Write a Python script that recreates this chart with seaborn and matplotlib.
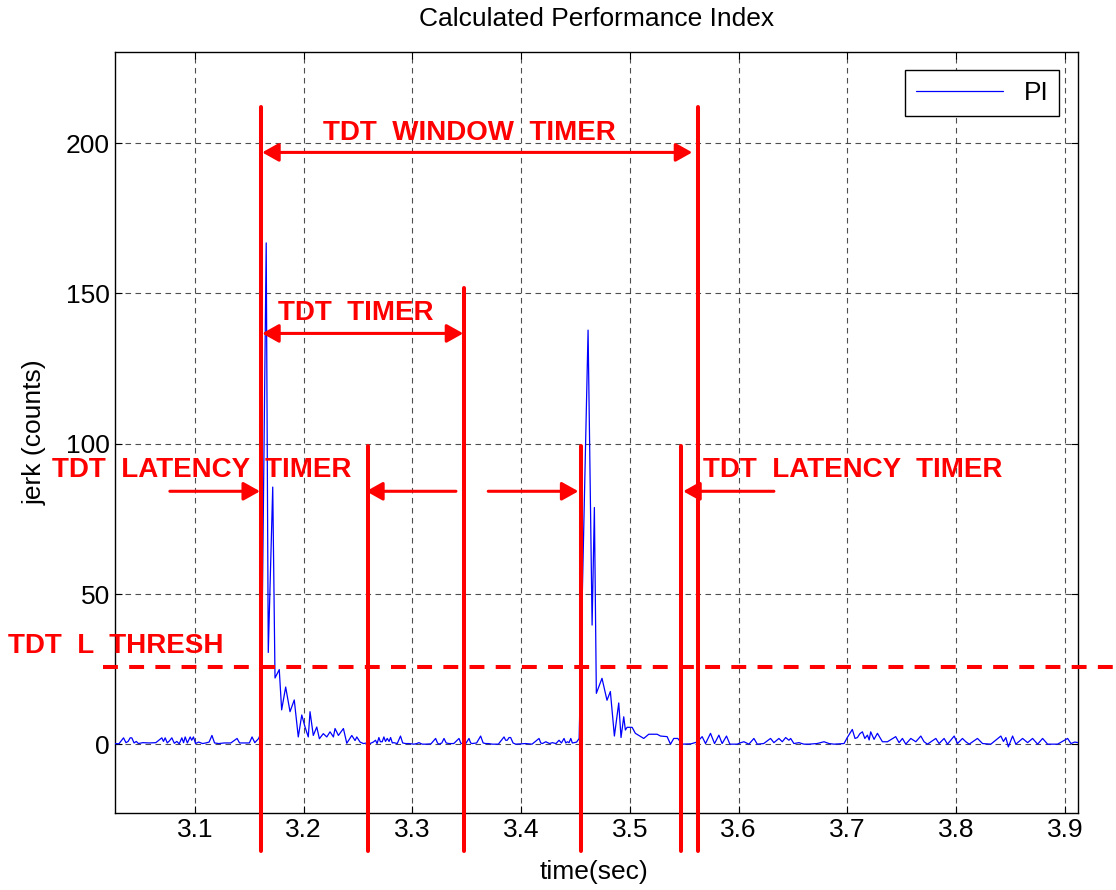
import numpy as np
import pandas as pd
import matplotlib
matplotlib.use("Agg")
import matplotlib.pyplot as plt
import seaborn as sns

# --- PI signal (time sec, jerk counts) ---
quiet_1 = [(3.0265, 0.3), (3.0300, 0.2), (3.0343, 2.2), (3.0365, 0.6), (3.0385, 1.0),
           (3.0404, 2.2), (3.0419, 2.2), (3.0440, 0.5), (3.0460, 1.0), (3.0480, 0.3),
           (3.0520, 0.6), (3.0580, 0.5), (3.0640, 0.6), (3.0695, 2.2), (3.0710, 1.0),
           (3.0726, 2.2), (3.0745, 0.5), (3.0765, 1.2), (3.0787, 2.2), (3.0810, 0.4),
           (3.0833, 1.0), (3.0855, 0.2), (3.0879, 2.2), (3.0895, 0.6), (3.0910, 2.5),
           (3.0930, 0.5), (3.0956, 2.5), (3.0970, 1.4), (3.0986, 2.5), (3.1005, 0.3),
           (3.1034, 0.8), (3.1070, 0.3), (3.1100, 0.5), (3.1130, 0.8), (3.1156, 3.0),
           (3.1180, 0.5), (3.1218, 0.3), (3.1270, 0.5), (3.1330, 0.5), (3.1387, 2.0),
           (3.1410, 0.5), (3.1460, 0.5), (3.1500, 0.5), (3.1525, 2.5), (3.1550, 0.6),
           (3.1586, 2.0), (3.1607, 4.0)]

burst_1 = [(3.1655, 166.8), (3.1674, 30.6), (3.1715, 85.6), (3.1736, 22.1), (3.1775, 24.9),
           (3.1797, 11.5), (3.1834, 19.1), (3.1874, 10.9), (3.1913, 14.8), (3.1950, 2.5),
           (3.1982, 9.8), (3.2012, 5.8), (3.2042, 2.5), (3.2058, 10.9), (3.2088, 3.0),
           (3.2120, 5.8), (3.2144, 1.9), (3.2180, 3.6), (3.2212, 2.5), (3.2242, 4.2),
           (3.2273, 2.5), (3.2288, 5.3), (3.2319, 3.0), (3.2365, 5.3), (3.2396, 0.4),
           (3.2442, 3.0), (3.2472, 1.3), (3.2488, 2.5), (3.2518, 0.8), (3.2549, 0.3),
           (3.2580, 0.5)]

quiet_2 = [(3.2610, 0.3), (3.2640, 0.8), (3.2660, 1.4), (3.2675, 0.3), (3.2691, 2.3),
           (3.2705, 0.9), (3.2722, 0.9), (3.2737, 2.5), (3.2752, 1.0), (3.2768, 2.0),
           (3.2785, 1.0), (3.2799, 2.3), (3.2815, 0.5), (3.2829, 0.6), (3.2860, 0.3),
           (3.2890, 2.8), (3.2910, 0.5), (3.2936, 0.3), (3.2970, 0.3), (3.3013, 0.1),
           (3.3040, 0.3), (3.3059, 0.6), (3.3090, 0.1), (3.3121, 0.1), (3.3170, 0.2),
           (3.3213, 2.0), (3.3230, 0.5), (3.3244, 0.1), (3.3270, 0.5), (3.3290, 2.0),
           (3.3310, 0.5), (3.3336, 0.3), (3.3380, 0.3), (3.3428, 2.0), (3.3445, 0.4),
           (3.3458, 0.3), (3.3490, 0.3), (3.3520, 2.0), (3.3535, 0.5), (3.3550, 0.3),
           (3.3590, 0.5), (3.3627, 2.8), (3.3650, 0.5), (3.3673, 0.3), (3.3700, 0.3),
           (3.3734, 0.1), (3.3790, 0.1), (3.3842, 2.5), (3.3857, 1.4), (3.3872, 1.4),
           (3.3888, 2.3), (3.3903, 2.3), (3.3925, 0.5), (3.3949, 0.1), (3.4000, 0.2),
           (3.4041, 0.3), (3.4100, 0.1), (3.4164, 2.0), (3.4180, 0.5), (3.4195, 0.3),
           (3.4226, 0.9), (3.4260, 0.3), (3.4287, 0.6), (3.4320, 0.3), (3.4348, 1.4),
           (3.4370, 0.5), (3.4394, 2.0), (3.4410, 0.5), (3.4425, 0.9), (3.4440, 0.6),
           (3.4456, 2.0), (3.4470, 0.5), (3.4487, 0.6), (3.4510, 0.8), (3.4533, 2.0)]

burst_2 = [(3.4615, 137.8), (3.4652, 39.7), (3.4673, 78.8), (3.4691, 17.0), (3.4743, 22.0),
           (3.4789, 14.7), (3.4820, 17.6), (3.4857, 2.8), (3.4897, 13.8), (3.4918, 2.3),
           (3.4943, 9.2), (3.4958, 4.8), (3.4974, 5.7), (3.5020, 5.7), (3.5050, 3.7),
           (3.5127, 2.0), (3.5173, 3.4), (3.5250, 3.4), (3.5281, 2.8), (3.5342, 2.6),
           (3.5373, 0.1), (3.5403, 2.0), (3.5440, 2.0), (3.5480, 0.1), (3.5560, 0.2),
           (3.5618, 0.8)]

quiet_3 = [(3.5664, 2.6), (3.5695, 0.3), (3.5741, 3.7), (3.5778, 0.3), (3.5818, 3.1),
           (3.5848, 0.3), (3.5888, 2.8), (3.5919, 0.1), (3.5987, 0.1), (3.6020, 0.6),
           (3.6048, 0.9), (3.6094, 0.1), (3.6140, 2.0), (3.6171, 0.1), (3.6230, 0.3),
           (3.6293, 2.0), (3.6324, 0.6), (3.6370, 2.0), (3.6401, 0.9), (3.6432, 2.3),
           (3.6462, 1.4), (3.6478, 2.0), (3.6508, 0.3), (3.6554, 0.6), (3.6600, 0.1),
           (3.6647, 0.1), (3.6720, 0.3), (3.6785, 0.9), (3.6831, 0.3), (3.6877, 0.1),
           (3.6969, 0.3), (3.6999, 2.3), (3.7045, 5.0), (3.7070, 2.0), (3.7092, 2.3),
           (3.7115, 3.6), (3.7138, 4.2), (3.7160, 2.0), (3.7184, 3.1), (3.7200, 1.5),
           (3.7214, 4.2), (3.7245, 1.7), (3.7276, 3.7), (3.7322, 0.9), (3.7368, 0.9),
           (3.7444, 2.6), (3.7475, 0.6), (3.7506, 2.0), (3.7537, 0.1), (3.7583, 2.0),
           (3.7629, 0.9), (3.7675, 2.8), (3.7705, 0.9), (3.7736, 0.1), (3.7813, 2.0),
           (3.7843, 0.3), (3.7889, 2.0), (3.7920, 0.1), (3.7982, 2.8), (3.8012, 0.3),
           (3.8058, 2.0), (3.8089, 0.9), (3.8120, 0.1), (3.8196, 2.0), (3.8243, 0.3),
           (3.8319, 0.1), (3.8411, 2.8), (3.8435, 1.0), (3.8457, 2.3), (3.8480, -0.8),
           (3.8519, 2.8), (3.8549, 0.1), (3.8611, 2.0), (3.8657, 0.6), (3.8703, 2.0),
           (3.8749, 0.1), (3.8795, 2.0), (3.8841, 0.1), (3.8933, 0.1), (3.9025, 2.0),
           (3.9056, 0.3), (3.9090, 0.8), (3.9125, 0.6)]

# --- annotation geometry (data coordinates) ---
marker_x = [3.1607, 3.2592, 3.3470, 3.4550, 3.5465, 3.5622]
marker_top = [211.9, 99.3, 151.7, 99.3, 99.3, 211.9]
marker_bottom = -35.5
thresh_level = 25.7
thresh_span = [3.0154, 3.96]
window_arrow = [(3.1618, 196.9), (3.5573, 196.9)]
timer_arrow = [(3.1618, 136.7), (3.3467, 136.7)]
latency_y = 84.2
latency_arrows = [(3.0769, 3.1598), (3.3400, 3.2574), (3.3697, 3.4526), (3.6324, 3.5490)]
labels = {
    "TDT  WINDOW  TIMER": (3.3522, 203.4, "center"),
    "TDT  TIMER": (3.2482, 143.4, "center"),
    "TDT  LATENCY  TIMER": (3.2442, 91.2, "right"),
    "TDT  LATENCY  TIMER ": (3.5674, 91.2, "left"),
    "TDT  L  THRESH": (2.9278, 32.8, "left"),
}

pi_df = pd.DataFrame(quiet_1 + burst_1 + quiet_2 + burst_2 + quiet_3, columns=["t", "pi"])

sns.set_style("white")
plt.rcParams["font.family"] = ["Liberation Sans", "DejaVu Sans"]
plt.rcParams["text.color"] = "black"
plt.rcParams["axes.labelcolor"] = "black"
plt.rcParams["xtick.color"] = "black"
plt.rcParams["ytick.color"] = "black"

fig = plt.figure(figsize=(11.16, 8.9), dpi=100)
ax = fig.add_axes([0.1030, 0.0865, 0.8629, 0.8551])

sns.lineplot(data=pi_df, x="t", y="pi", color="blue", linewidth=0.9, label="PI",
             estimator=None, sort=False, ax=ax, zorder=3)

ax.set_xlim(3.0264, 3.912)
ax.set_ylim(-22.8, 230.3)
ax.set_xticks([3.1, 3.2, 3.3, 3.4, 3.5, 3.6, 3.7, 3.8, 3.9])
ax.set_yticks([0, 50, 100, 150, 200])
ax.tick_params(labelsize=19, direction="in", length=5, color="black",
               bottom=True, left=True, top=True, right=True)
ax.grid(True, color="#222222", linestyle=(0, (5, 4)), linewidth=0.8, alpha=0.8)
for s in ax.spines.values():
    s.set_color("black")
    s.set_linewidth(1.0)

ax.set_title("Calculated Performance Index", fontsize=19, pad=19, color="black")
ax.set_xlabel("time(sec)", fontsize=19)
ax.set_ylabel("jerk (counts)", fontsize=19)
ax.xaxis.set_label_coords(0.497, -0.062)
ax.yaxis.set_label_coords(-0.071, 0.5)

red = "#ff0000"
for x, top in zip(marker_x, marker_top):
    ax.plot([x, x], [marker_bottom, top], color=red, lw=2.9, clip_on=False, zorder=4)

ax.plot(thresh_span, [thresh_level, thresh_level], color=red, lw=2.9,
        dashes=(3.7, 2.8), clip_on=False, zorder=4)

arrow_kw = dict(color=red, lw=2.2, shrinkA=0, shrinkB=0, mutation_scale=20)
ax.annotate("", xy=window_arrow[1], xytext=window_arrow[0], annotation_clip=False,
            arrowprops=dict(arrowstyle="<|-|>,head_length=0.5,head_width=0.28", **arrow_kw))
ax.annotate("", xy=timer_arrow[1], xytext=timer_arrow[0], annotation_clip=False,
            arrowprops=dict(arrowstyle="<|-|>,head_length=0.5,head_width=0.28", **arrow_kw))
for tail, tip in latency_arrows:
    ax.annotate("", xy=(tip, latency_y), xytext=(tail, latency_y), annotation_clip=False,
                arrowprops=dict(arrowstyle="-|>,head_length=0.5,head_width=0.28", **arrow_kw))

for txt, (x, y, ha) in labels.items():
    ax.text(x, y, txt.strip(), color=red, fontsize=20, fontweight="bold",
            ha=ha, va="center", zorder=5)

leg = ax.legend(loc="upper right", fontsize=19, handlelength=3.3, fancybox=False,
                edgecolor="black", framealpha=1, borderaxespad=0.7)
leg.get_frame().set_linewidth(1.0)
for t in leg.get_texts():
    t.set_color("black")

fig.savefig("out.png", dpi=100)
